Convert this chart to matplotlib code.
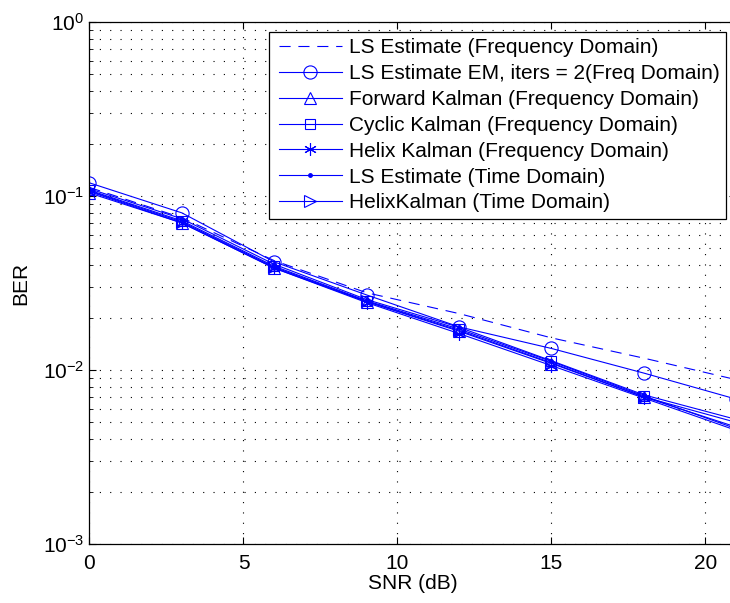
import matplotlib
matplotlib.use('Agg')
import matplotlib.pyplot as plt
from matplotlib.lines import Line2D
from matplotlib.legend_handler import HandlerLine2D
from matplotlib.ticker import LogLocator, NullFormatter

plt.rcParams['font.family'] = ['Liberation Sans', 'DejaVu Sans']
plt.rcParams['font.size'] = 15

snr = [0, 3, 6, 9, 12, 15, 18, 21]

ber_ls_freq = [0.112, 0.075, 0.0425, 0.0278, 0.0211, 0.0153, 0.0117, 0.0088]
ber_em = [0.119, 0.080, 0.0418, 0.0270, 0.0177, 0.0133, 0.0096, 0.0068]
ber_fwd = [0.104, 0.070, 0.0385, 0.0247, 0.0167, 0.0109, 0.0070, 0.0050]
ber_cyclic = [0.108, 0.072, 0.0395, 0.0250, 0.0172, 0.0112, 0.0071, 0.0046]
ber_helix_freq = [0.106, 0.070, 0.0385, 0.0244, 0.0162, 0.0106, 0.0069, 0.0045]
ber_ls_time = [0.110, 0.074, 0.0405, 0.0254, 0.0176, 0.0113, 0.0072, 0.0052]
ber_helix_time = [0.107, 0.071, 0.0390, 0.0248, 0.0169, 0.0110, 0.0070, 0.0047]

labels = ['LS Estimate (Frequency Domain)',
          'LS Estimate EM, iters = 2(Freq Domain)',
          'Forward Kalman (Frequency Domain)',
          'Cyclic Kalman (Frequency Domain)',
          'Helix Kalman (Frequency Domain)',
          'LS Estimate (Time Domain)',
          'HelixKalman (Time Domain)']

fig = plt.figure(figsize=(7.3, 6.03), dpi=100)
ax = fig.add_axes([0.1226, 0.0978, 0.886, 0.8657])

blue = (0, 0, 1)
lw = 0.8
ax.semilogy(snr, ber_ls_freq, '--', color=blue, lw=lw, dashes=(10, 7), label=labels[0])
ax.semilogy(snr, ber_em, '-', color=blue, lw=lw, marker='o', ms=9.5,
            mfc='none', mew=lw, label=labels[1])
ax.semilogy(snr, ber_fwd, '-', color=blue, lw=lw, marker='^', ms=9,
            mfc='none', mew=lw, label=labels[2])
ax.semilogy(snr, ber_cyclic, '-', color=blue, lw=lw, marker='s', ms=6.5,
            mfc='none', mew=lw, label=labels[3])
ax.semilogy(snr, ber_helix_freq, '-', color=blue, lw=lw, marker=(6, 2, 0), ms=9,
            mew=lw, label=labels[4])
ax.semilogy(snr, ber_ls_time, '-', color=blue, lw=lw, marker='.', ms=5,
            label=labels[5])
ax.semilogy(snr, ber_helix_time, '-', color=blue, lw=lw, marker='>', ms=9,
            mfc='none', mew=lw, label=labels[6])

ax.set_xlim(0, 21)
ax.set_ylim(1e-3, 1)
ax.set_xticks([0, 5, 10, 15, 20])
ax.yaxis.set_minor_locator(LogLocator(base=10, subs=range(2, 10)))
ax.yaxis.set_minor_formatter(NullFormatter())

# dotted major/minor grid
dot = (0, (1, 8.3))
ax.grid(True, which='major', axis='both', color='k', lw=0.8, linestyle=dot)
ax.grid(True, which='minor', axis='y', color='k', lw=0.8, linestyle=dot)

ax.tick_params(which='both', direction='in', top=True, right=True, labelsize=15)
ax.tick_params(which='major', length=5)
ax.tick_params(axis='y', which='major', pad=4)
ax.tick_params(axis='x', which='major', pad=7)
ax.tick_params(which='minor', length=3)
for s in ax.spines.values():
    s.set_linewidth(0.9)

ax.set_xlabel('SNR (dB)', fontsize=15, labelpad=1)
ax.set_ylabel('BER', fontsize=15, labelpad=9)

leg = ax.legend(loc='upper right', bbox_to_anchor=(0.984, 0.981), fontsize=15,
                handlelength=3.2, handletextpad=0.35, borderpad=0.3,
                labelspacing=0.33, borderaxespad=0, fancybox=False,
                framealpha=1, edgecolor='k',
                handler_map={Line2D: HandlerLine2D(xpad=0.2)})
leg.get_frame().set_linewidth(0.9)

fig.savefig('out.png', dpi=100)
